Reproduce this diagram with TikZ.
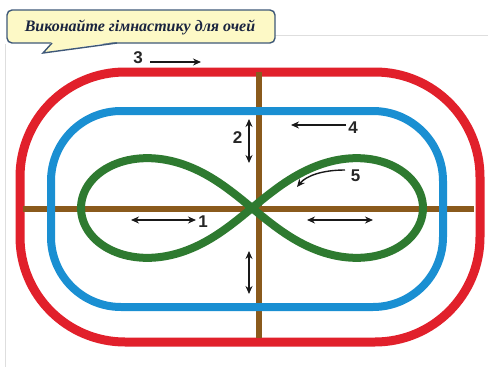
\documentclass[tikz,border=0pt]{standalone}
\usepackage{fontspec}
\setmainfont{Liberation Serif}
\newfontfamily\digitfont{Liberation Sans}
\usetikzlibrary{arrows.meta}
\definecolor{trackred}{HTML}{E1202B}
\definecolor{trackblue}{HTML}{1A8FD2}
\definecolor{trackbrown}{HTML}{8A5A1C}
\definecolor{trackgreen}{HTML}{2E7A30}
\definecolor{calloutfill}{HTML}{FDF9C6}
\definecolor{calloutline}{HTML}{3E5878}
\definecolor{callouttext}{HTML}{1A2440}
\definecolor{pagegray}{HTML}{DEDEDE}
\tikzset{
  redtrack/.style={draw=trackred, line width=9pt},
  bluetrack/.style={draw=trackblue, line width=8pt},
  browntrack/.style={draw=trackbrown, line width=6.5pt},
  greentrack/.style={draw=trackgreen, line width=8pt},
  motion/.style={draw=black!90, line width=1.4pt, -{Stealth[length=8pt,width=7pt]}},
  motionboth/.style={draw=black!90, line width=1.4pt, {Stealth[length=8pt,width=7pt]}-{Stealth[length=8pt,width=7pt]}},
  numlabel/.style={font=\digitfont\bfseries\fontsize{17}{17}\selectfont, text=black!85, inner sep=0pt},
}
\begin{document}
\begin{tikzpicture}[x=1pt,y=-1pt]
\useasboundingbox (0,0) rectangle (488,367);
% page lines
\draw[pagegray, line width=1pt] (5.5,44) -- (5.5,367);
\draw[pagegray, line width=1pt] (275,35) -- (488,35);
% tracks
\draw[redtrack, rounded corners=105pt] (20,72) rectangle (480,342);
\draw[browntrack] (259,72) -- (259,338);
\draw[browntrack] (23,209) -- (474,209);
\draw[bluetrack, rounded corners=70pt] (51,111) rectangle (443,307);
\draw[greentrack, line join=round] plot[domain=0:360, samples=240, smooth cycle]
  ({252+171*cos(\x)/(1+sin(\x)^2)}, {208+141*sin(\x)*cos(\x)/(1+sin(\x)^2)});
% labels and arrows
\node[numlabel] (n3) at (138,57.5) {3};
\coordinate (a3s) at (150,62);
\coordinate (a3e) at (201,62);
\draw[motion] (a3s) -- (a3e);
\node[numlabel] (n2) at (237.5,137.5) {2};
\coordinate (a2s) at (249,119);
\coordinate (a2e) at (249,163);
\draw[motionboth] (a2s) -- (a2e);
\node[numlabel] (n4) at (353,128) {4};
\coordinate (a4s) at (346,125);
\coordinate (a4e) at (291,125);
\draw[motion] (a4s) -- (a4e);
\node[numlabel] (n5) at (355.5,175.5) {5};
\coordinate (a5s) at (345,170);
\coordinate (a5e) at (297,187);
\draw[motion] (a5s) .. controls (322,170) and (306,176) .. (a5e);
\node[numlabel] (n1) at (203,222) {1};
\coordinate (a1s) at (131,220);
\coordinate (a1e) at (196,220);
\draw[motionboth] (a1s) -- (a1e);
\coordinate (arS) at (307,220);
\coordinate (arE) at (373,220);
\draw[motionboth] (arS) -- (arE);
\coordinate (alS) at (249,251);
\coordinate (alE) at (249,294);
\draw[motionboth] (alS) -- (alE);
% callout
\node[draw=calloutline, fill=calloutfill, line width=1.4pt, rounded corners=5pt,
  minimum width=268pt, minimum height=33pt, inner sep=0pt] (callout) at (141,26.5) {};
\fill[calloutfill] (52,41.5) -- (43,53) -- (117,41.5) -- cycle;
\draw[calloutline, line width=1.4pt, line join=miter] (52,43) -- (43,53) -- (117,43);
\node[font=\bfseries\itshape\fontsize{16}{16}\selectfont, text=callouttext, inner sep=0pt] (title) at (140,27) {Виконайте гімнастику для очей};
\end{tikzpicture}
\end{document}
